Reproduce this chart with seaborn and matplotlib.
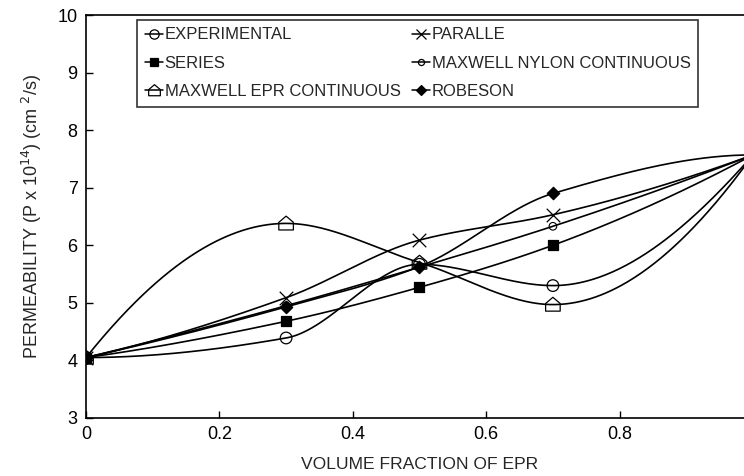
import numpy as np
import pandas as pd
import matplotlib
matplotlib.use("Agg")
import matplotlib.pyplot as plt
from matplotlib.lines import Line2D
from matplotlib.path import Path
import seaborn as sns

# ---- data ----
volume_fraction = [0.0, 0.3, 0.5, 0.7, 1.0]
experimental = [4.05, 4.39, 5.67, 5.30, 7.57]
paralle = [4.05, 5.09, 6.09, 6.53, 7.57]
series = [4.05, 4.68, 5.27, 6.00, 7.57]
maxwell_nylon = [4.05, 4.95, 5.62, 6.33, 7.57]
maxwell_epr = [4.05, 6.38, 5.70, 4.97, 7.57]
robeson = [4.05, 4.93, 5.63, 6.90, 7.57]

x_ticks = [0, 0.2, 0.4, 0.6, 0.8]
x_tick_labels = ["0", "0.2", "0.4", "0.6", "0.8"]
y_ticks = [3, 4, 5, 6, 7, 8, 9, 10]

names = ["EXPERIMENTAL", "SERIES", "MAXWELL EPR CONTINUOUS",
         "PARALLE", "MAXWELL NYLON CONTINUOUS", "ROBESON"]
values = {
    "EXPERIMENTAL": experimental,
    "SERIES": series,
    "MAXWELL EPR CONTINUOUS": maxwell_epr,
    "PARALLE": paralle,
    "MAXWELL NYLON CONTINUOUS": maxwell_nylon,
    "ROBESON": robeson,
}

house = Path([(-1, -0.9), (1, -0.9), (1, 0.15), (0, 1), (-1, 0.15), (-1, -0.9)],
             [Path.MOVETO, Path.LINETO, Path.LINETO, Path.LINETO, Path.LINETO, Path.CLOSEPOLY])
styles = {
    "EXPERIMENTAL": dict(marker="o", s=70, fc="none", lw=0.9),
    "SERIES": dict(marker="s", s=60, fc="black", lw=0.9),
    "MAXWELL EPR CONTINUOUS": dict(marker=house, s=110, fc="none", lw=0.9),
    "PARALLE": dict(marker="x", s=95, fc="black", lw=0.9),
    "MAXWELL NYLON CONTINUOUS": dict(marker="o", s=30, fc="none", lw=0.8),
    "ROBESON": dict(marker="D", s=40, fc="black", lw=0.9),
}


def pchip(xk, yk, xs):
    """Shape-preserving piecewise cubic Hermite curve through the points."""
    xk = np.asarray(xk, float)
    yk = np.asarray(yk, float)
    n = len(xk)
    h = np.diff(xk)
    d = np.diff(yk) / h
    m = np.zeros(n)
    for k in range(1, n - 1):
        if d[k - 1] * d[k] <= 0:
            m[k] = 0.0
        else:
            w1 = 2 * h[k] + h[k - 1]
            w2 = h[k] + 2 * h[k - 1]
            m[k] = (w1 + w2) / (w1 / d[k - 1] + w2 / d[k])

    def edge(h0, h1, d0, d1):
        v = ((2 * h0 + h1) * d0 - h0 * d1) / (h0 + h1)
        if np.sign(v) != np.sign(d0):
            return 0.0
        if np.sign(d0) != np.sign(d1) and abs(v) > abs(3 * d0):
            return 3 * d0
        return v

    m[0] = edge(h[0], h[1], d[0], d[1])
    m[-1] = edge(h[-1], h[-2], d[-1], d[-2])
    out = np.empty_like(xs)
    for j, xv in enumerate(xs):
        i = int(np.clip(np.searchsorted(xk, xv, side="right") - 1, 0, n - 2))
        t = (xv - xk[i]) / h[i]
        h00 = 2 * t ** 3 - 3 * t ** 2 + 1
        h10 = t ** 3 - 2 * t ** 2 + t
        h01 = -2 * t ** 3 + 3 * t ** 2
        h11 = t ** 3 - t ** 2
        out[j] = h00 * yk[i] + h10 * h[i] * m[i] + h01 * yk[i + 1] + h11 * h[i] * m[i + 1]
    return out


sns.set_theme(style="ticks")
plt.rcParams["font.family"] = ["Liberation Sans", "DejaVu Sans"]

fig = plt.figure(figsize=(7.44, 4.76), dpi=100)
ax = fig.add_axes([86 / 744, 58 / 476, 667 / 744, 403 / 476])

xs = np.linspace(0, 1, 400)
rows = []
for nm in names:
    ys = pchip(volume_fraction, values[nm], xs)
    rows.append(pd.DataFrame({"x": xs, "y": ys, "series": nm}))
curves = pd.concat(rows, ignore_index=True)
sns.lineplot(data=curves, x="x", y="y", units="series", estimator=None,
             color="black", linewidth=1.2, ax=ax, legend=False, sort=False)

pts = pd.DataFrame([(nm, xv, yv) for nm in names
                    for xv, yv in zip(volume_fraction, values[nm])],
                   columns=["series", "x", "y"])
for nm in names:
    st = styles[nm]
    sub = pts[pts["series"] == nm]
    sns.scatterplot(data=sub, x="x", y="y", marker=st["marker"], s=st["s"],
                    facecolor=st["fc"], edgecolor="black", linewidth=st["lw"],
                    color="black", ax=ax, zorder=3, legend=False)

ax.set_xlim(0, 1)
ax.set_ylim(3, 10)
ax.set_xticks(x_ticks)
ax.set_xticklabels(x_tick_labels)
ax.set_yticks(y_ticks)
ax.tick_params(direction="in", length=5, width=1, colors="black",
               labelsize=13, pad=6)
for side in ["left", "bottom", "top", "right"]:
    ax.spines[side].set_visible(True)
    ax.spines[side].set_color("black")
    ax.spines[side].set_linewidth(1.2)

ax.set_xlabel("VOLUME FRACTION OF EPR", fontsize=12.6, labelpad=10)
ax.set_ylabel(r"PERMEABILITY (P x 10$^{14}$) (cm $^{2}$/s)", fontsize=13, labelpad=10)

handles = []
for nm in names:
    st = styles[nm]
    ms = np.sqrt(st["s"])
    mfc = "black" if st["marker"] == "x" else st["fc"]
    handles.append(Line2D([0], [0], color="black", lw=1.1, marker=st["marker"],
                          markersize=ms * 0.8, markerfacecolor=mfc,
                          markeredgecolor="black", markeredgewidth=0.9))
leg = ax.legend(handles, names, ncol=2, loc="upper left",
                bbox_to_anchor=(0.0765, 0.988), frameon=True, fancybox=False,
                edgecolor="black", fontsize=12, handlelength=1.1,
                handletextpad=0.1, columnspacing=0.7, labelspacing=0.8,
                borderpad=0.45, borderaxespad=0.0)
leg.get_frame().set_linewidth(1.2)

fig.savefig("out.png", dpi=100)
